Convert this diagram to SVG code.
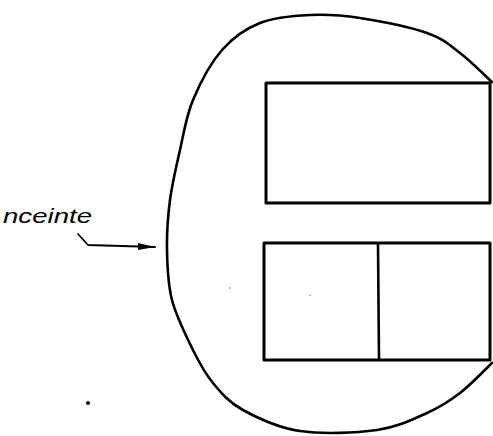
<svg xmlns="http://www.w3.org/2000/svg" width="493" height="436" viewBox="0 0 493 436">
<style>
.ln{fill:none;stroke:#000;stroke-linejoin:round;stroke-linecap:round}
.lbl{font-family:"Liberation Sans",sans-serif;font-style:italic;font-size:21px;fill:#000}
</style>
<defs>
<marker id="ah" markerWidth="18" markerHeight="10" refX="17" refY="5" orient="auto" markerUnits="userSpaceOnUse">
<path d="M0,1.5 L17,5 L0,8.5 Z" fill="#000"/>
</marker>
</defs>
<rect width="493" height="436" fill="#fff"/>
<g id="enceinte">
<path class="ln" stroke-width="2.6" d="M492,82 C486.7,77.2 470.8,61.2 460,53 C449.2,44.8 443.7,38.8 427,33 C410.3,27.2 379.5,21 360,18 C340.5,15 326.7,14.2 310,15 C293.3,15.8 274.7,17.2 260,23 C245.3,28.8 233.2,37.2 222,50 C210.8,62.8 200,83.3 193,100 C186,116.7 183.8,133.3 180,150 C176.2,166.7 172.2,183.3 170,200 C167.8,216.7 166.7,233.3 167,250 C167.3,266.7 167.7,283.3 172,300 C176.3,316.7 186.2,336.2 193,350 C199.8,363.8 204.7,373 213,383 C221.3,393 228.5,402 243,410 C257.5,418 277.7,427.7 300,431 C322.3,434.3 355.8,433 377,430 C398.2,427 413.2,419.2 427,413 C440.8,406.8 449.2,401.3 460,393 C470.8,384.7 486.7,368 492,363"/>
</g>
<g id="top-rect">
<rect class="ln" stroke-width="3" x="266" y="83" width="224" height="120"/>
</g>
<g id="bottom-rect">
<rect class="ln" stroke-width="3" x="264" y="243" width="226" height="117"/>
<line class="ln" stroke-width="2.6" x1="378" y1="244" x2="379" y2="359"/>
</g>
<g id="connectors">
<path class="ln" stroke-width="1.8" d="M78,234 L88,245 L155,247" marker-end="url(#ah)"/>
</g>
<text class="lbl" x="3" y="223" textLength="89" lengthAdjust="spacingAndGlyphs">nceinte</text>
<circle cx="88" cy="403" r="2" fill="#000"/>
<circle cx="230" cy="288" r="0.7" fill="#555"/>
<circle cx="310" cy="295" r="0.7" fill="#555"/>
</svg>
